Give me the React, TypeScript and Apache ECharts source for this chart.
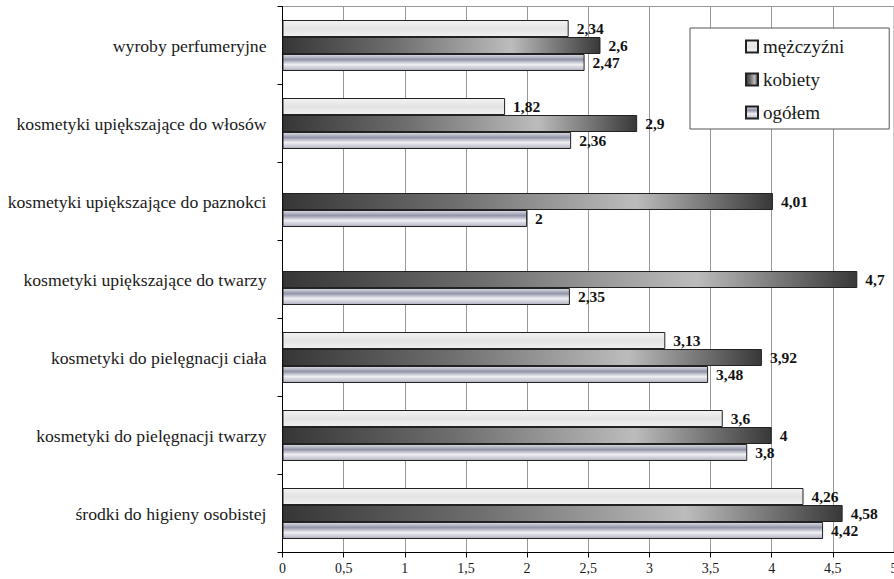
import React, { useEffect, useRef } from "react";
import * as echarts from "echarts";

const categories = [
  "wyroby perfumeryjne",
  "kosmetyki upiększające do włosów",
  "kosmetyki upiększające do paznokci",
  "kosmetyki upiększające do twarzy",
  "kosmetyki do pielęgnacji ciała",
  "kosmetyki do pielęgnacji twarzy",
  "środki do higieny osobistej",
];
const seriesNames = ["mężczyźni", "kobiety", "ogółem"];
const mezczyzni = [2.34, 1.82, null, null, 3.13, 3.6, 4.26];
const kobiety = [2.6, 2.9, 4.01, 4.7, 3.92, 4, 4.58];
const ogolem = [2.47, 2.36, 2, 2.35, 3.48, 3.8, 4.42];

const FONT = "Liberation Serif";
const fmt = (v: number) => String(v).replace(".", ",");

const colorMen = new echarts.graphic.LinearGradient(0, 0, 0, 1, [
  { offset: 0, color: "#f3f3f3" },
  { offset: 0.5, color: "#e3e3e3" },
  { offset: 1, color: "#f0f0f0" },
]);
const colorWomen = new echarts.graphic.LinearGradient(0, 0, 1, 0, [
  { offset: 0, color: "#363636" },
  { offset: 0.35, color: "#6e6e6e" },
  { offset: 0.72, color: "#bcbcbc" },
  { offset: 1, color: "#383838" },
]);
const colorAll = new echarts.graphic.LinearGradient(0, 0, 0, 1, [
  { offset: 0, color: "#dcdde5" },
  { offset: 0.32, color: "#9295a8" },
  { offset: 0.62, color: "#f0f0f4" },
  { offset: 1, color: "#b0b2c0" },
]);

export default function App() {
  const ref = useRef<HTMLDivElement>(null);
  useEffect(() => {
    if (!ref.current) return;
    const chart = echarts.init(ref.current, null, { renderer: "svg" });
    const label = {
      show: true,
      position: "right" as const,
      distance: 8,
      fontFamily: FONT,
      fontWeight: "bold" as const,
      fontSize: 15.5,
      color: "#111",
      formatter: (p: any) => fmt(p.value),
    };
    const datas = [mezczyzni, kobiety, ogolem];
    const colors = [colorMen, colorWomen, colorAll];
    chart.setOption({
      animation: false,
      backgroundColor: "#fff",
      textStyle: { fontFamily: FONT },
      grid: {
        left: 282.5,
        right: 0,
        top: 6.5,
        bottom: 26.5,
        outerBoundsMode: "none",
        containLabel: false,
        show: true,
        borderColor: "#999",
        borderWidth: 1,
      },
      legend: {
        orient: "vertical",
        left: 690,
        top: 28,
        backgroundColor: "#fff",
        borderColor: "#555",
        borderWidth: 1,
        padding: [9, 45, 7, 55],
        itemGap: 14,
        itemWidth: 12,
        itemHeight: 12,
        icon: "rect",
        textStyle: { fontFamily: FONT, fontSize: 19, color: "#1a1a1a" },
        data: seriesNames,
      },
      xAxis: {
        type: "value",
        min: 0,
        max: 5,
        interval: 0.5,
        axisLine: { show: true, lineStyle: { color: "#000", width: 1 } },
        axisTick: { show: true, length: 5, lineStyle: { color: "#000" } },
        axisLabel: {
          margin: 9,
          fontFamily: FONT,
          fontSize: 14,
          color: "#1a1a1a",
          formatter: (v: number) => fmt(v),
        },
        splitLine: { show: true, lineStyle: { color: "#999", width: 1 } },
      },
      yAxis: {
        type: "category",
        inverse: true,
        data: categories,
        axisLine: { show: true, lineStyle: { color: "#000", width: 1 } },
        axisTick: { show: true, length: 5, lineStyle: { color: "#000" } },
        axisLabel: {
          margin: 16,
          fontFamily: FONT,
          fontSize: 17.7,
          color: "#1a1a1a",
        },
      },
      series: seriesNames.map((name, i) => ({
        name,
        type: "bar",
        data: datas[i],
        barWidth: 17,
        barGap: "0%",
        itemStyle: { color: colors[i], borderColor: "#222", borderWidth: 1 },
        label,
      })),
    });
    return () => chart.dispose();
  }, []);
  return (
    <div
      ref={ref}
      style={{ position: "absolute", left: 0, top: 0, width: 894, height: 579 }}
    />
  );
}
